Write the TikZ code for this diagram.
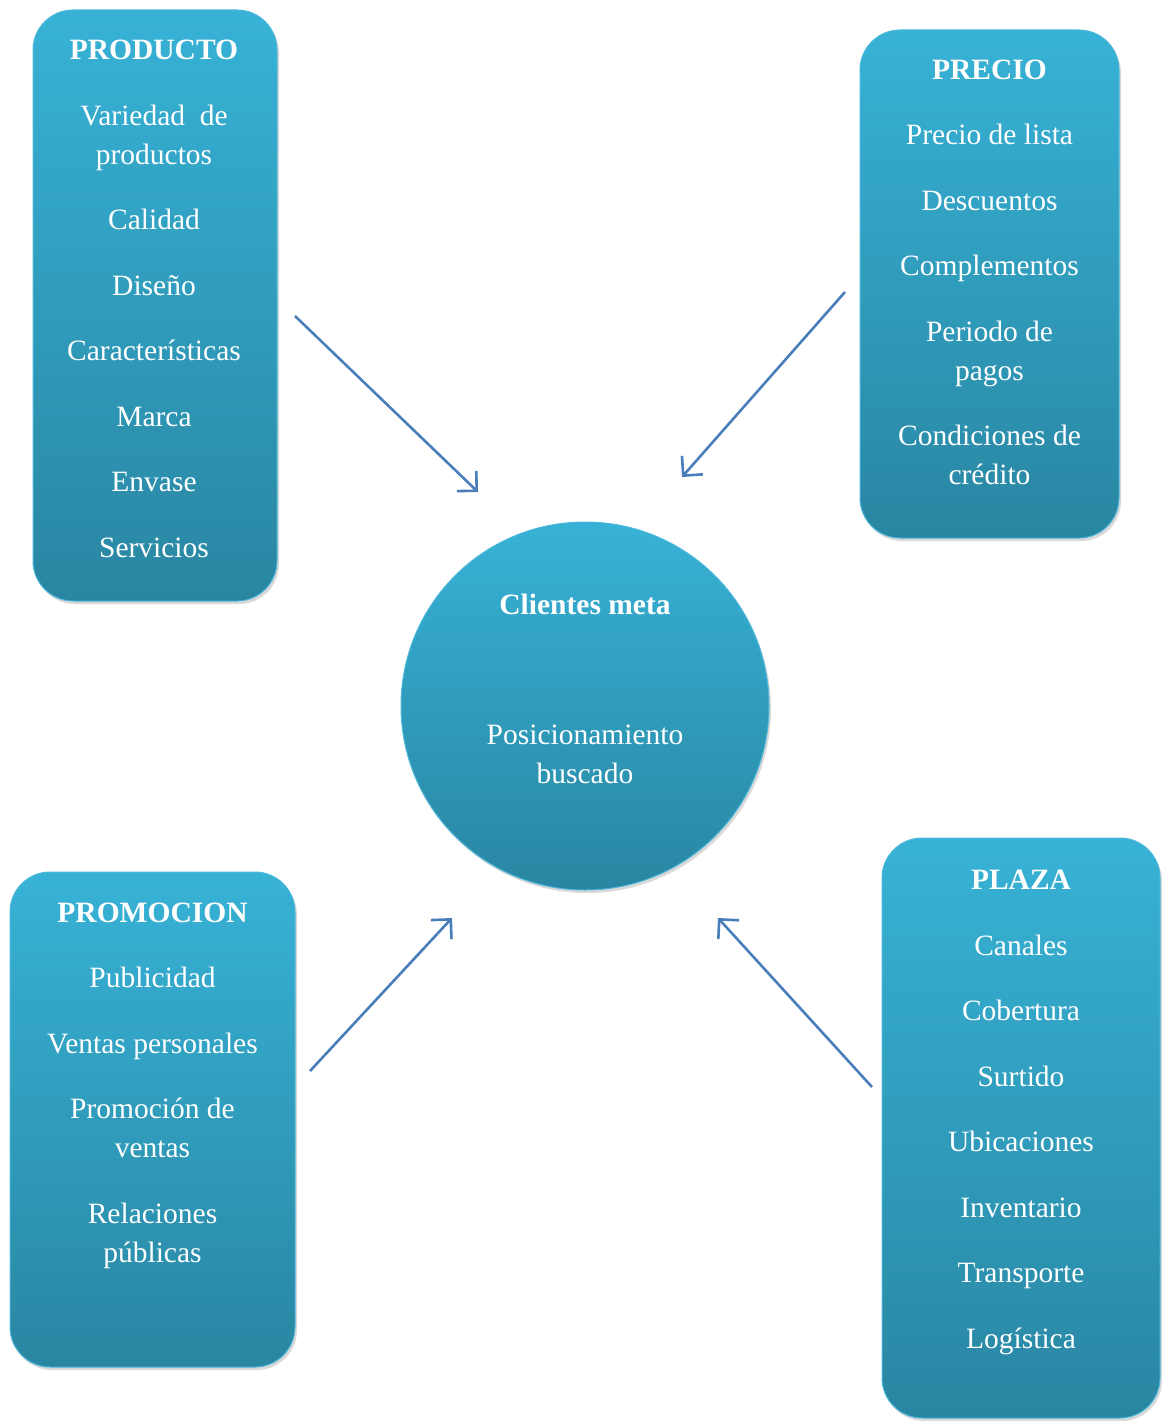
\documentclass[tikz,border=0pt]{standalone}
\usepackage{fontspec}
\setmainfont{Liberation Serif}
\usetikzlibrary{arrows.meta, shadows, positioning}
\definecolor{boxtop}{HTML}{37B2D6}
\definecolor{boxbottom}{HTML}{2986A2}
\definecolor{boxline}{HTML}{4DB8DB}
\definecolor{arrowblue}{HTML}{4A7EBB}

\begin{document}
\begin{tikzpicture}[x=1pt,y=-1pt,>={Straight Barb[length=14pt,width=28pt]},
        mixbox/.style={rectangle, rounded corners=40pt, top color=boxtop, bottom color=boxbottom, draw=boxline, line width=1pt,
            drop shadow={shadow xshift=2pt, shadow yshift=-3pt, opacity=0.3}},
        mixtext/.style={text=white, align=center, anchor=base, inner sep=0pt, font=\fontsize{29.5}{39}\selectfont},
        pointer/.style={->, draw=arrowblue, line width=2.6pt}]
    \useasboundingbox (0,0) rectangle (1165,1421);
    % the four boxes and the target
    \node[mixbox, minimum width=244pt, minimum height=591pt] (producto) at (155,305.5) {};
    \node[mixbox, minimum width=259pt, minimum height=508pt] (precio) at (989.5,284) {};
    \node[mixbox, minimum width=285pt, minimum height=495pt] (promocion) at (152.5,1119.5) {};
    \node[mixbox, minimum width=278pt, minimum height=580pt] (plaza) at (1021,1128) {};
    \node[mixbox, circle, minimum size=368pt] (clientes) at (585,706) {};
    % texts, placed by the baseline of their last line
    \node[mixtext] (productotext) at (154,557) {\textbf{PRODUCTO}\\[26.5pt] Variedad\ \ de\\productos\\[26.5pt] Calidad\\[26.5pt] Diseño\\[26.5pt]
        Características\\[26.5pt] Marca\\[26.5pt] Envase\\[26.5pt] Servicios};
    \node[mixtext] (preciotext) at (989.5,484.5) {\textbf{PRECIO}\\[26.5pt] Precio de lista\\[26.5pt] Descuentos\\[26.5pt] Complementos\\[26.5pt]
        Periodo de\\pagos\\[26.5pt] Condiciones de\\crédito};
    \node[mixtext] (promociontext) at (152.5,1262) {\textbf{PROMOCION}\\[26.5pt] Publicidad\\[26.5pt] Ventas personales\\[26.5pt]
        Promoción de\\ventas\\[26.5pt] Relaciones\\públicas};
    \node[mixtext] (plazatext) at (1021,1348) {\textbf{PLAZA}\\[26.5pt] Canales\\[26.5pt] Cobertura\\[26.5pt] Surtido\\[26.5pt] Ubicaciones\\[26.5pt]
        Inventario\\[26.5pt] Transporte\\[26.5pt] Logística};
    \node[mixtext] (clientestext) at (585,783) {\textbf{Clientes meta}\\[91pt] Posicionamiento\\buscado};
    % arrows into the target
    \coordinate (productotail) at (295,316);
    \coordinate (productotip) at (478,492);
    \coordinate (preciotail) at (845,292);
    \coordinate (preciotip) at (682,477);
    \coordinate (promociontail) at (310,1071);
    \coordinate (promociontip) at (452,918);
    \coordinate (plazatail) at (872,1087);
    \coordinate (plazatip) at (718,918);
    \draw[pointer] (productotail) -- (productotip);
    \draw[pointer] (preciotail) -- (preciotip);
    \draw[pointer] (promociontail) -- (promociontip);
    \draw[pointer] (plazatail) -- (plazatip);
\end{tikzpicture}
\end{document}
